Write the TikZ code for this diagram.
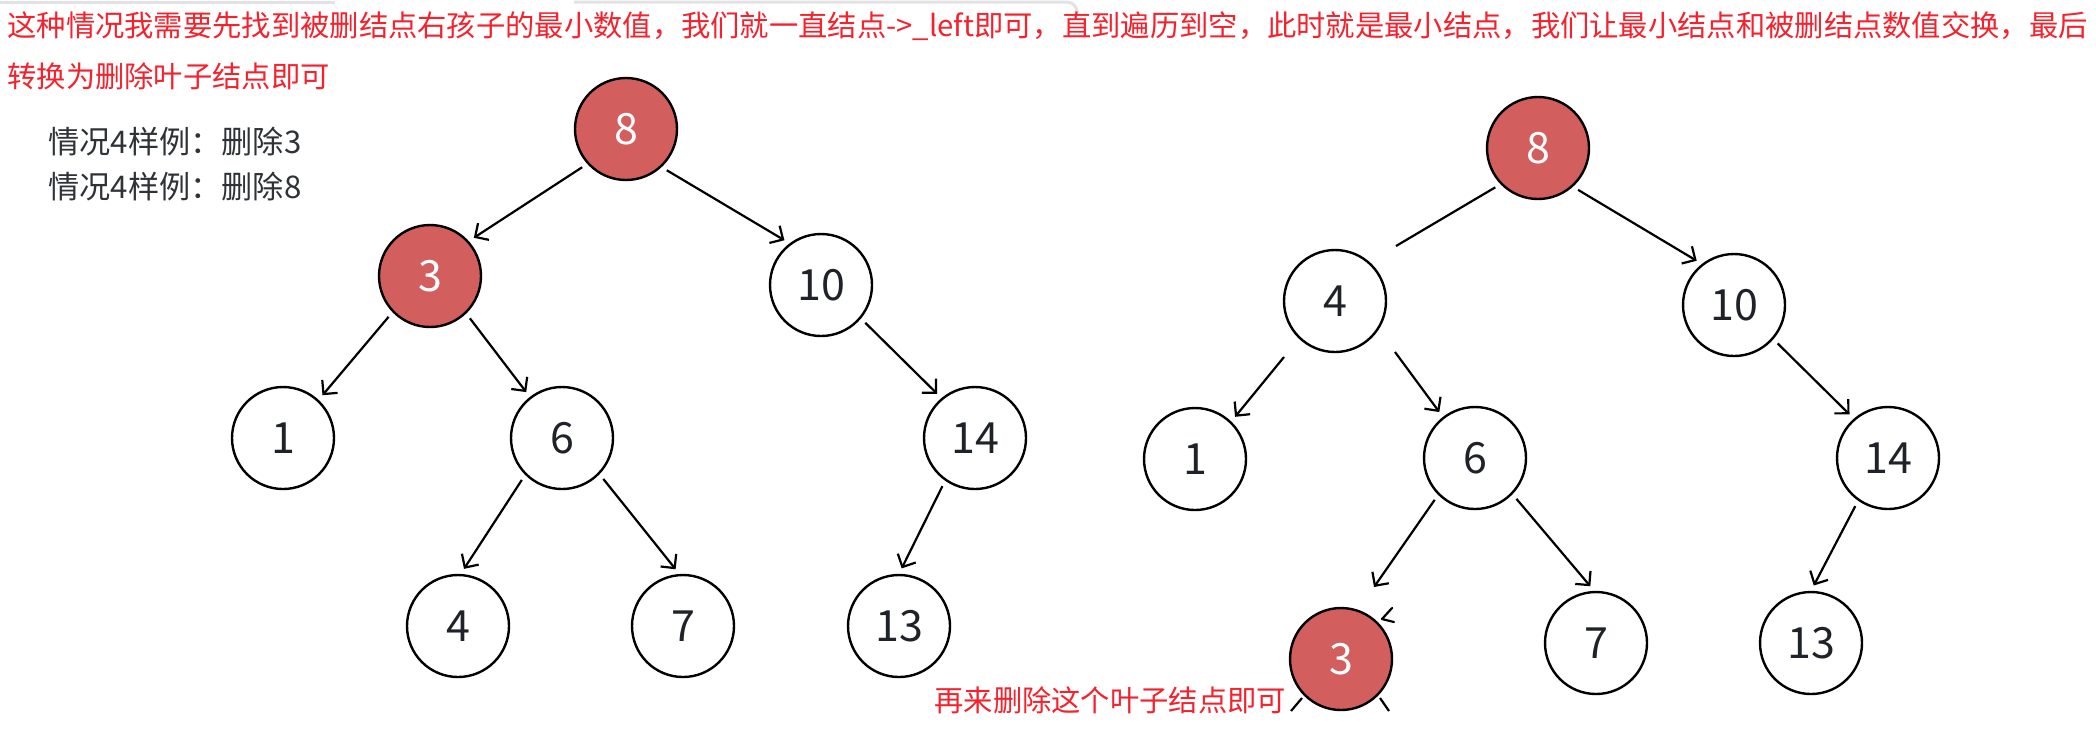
\documentclass[tikz,border=0pt]{standalone}
\usepackage{fontspec}
\newfontfamily\cjk{Noto Sans CJK SC}
\usetikzlibrary{arrows.meta}
\definecolor{nodered}{RGB}{211,94,94}
\definecolor{txtred}{RGB}{245,34,45}
\definecolor{txtgray}{RGB}{47,50,55}
\definecolor{digit}{RGB}{31,35,41}
\definecolor{barg}{RGB}{226,226,228}
\begin{document}
\begin{tikzpicture}[x=0.5pt,y=-0.5pt,
  tnode/.style={circle, draw=black, line width=1.2pt, minimum size=51pt, inner sep=0pt, fill=white,
    font=\cjk\fontsize{21.5}{21.5}\selectfont, text=digit},
  hot/.style={tnode, fill=nodered, text=white},
  link/.style={line width=1.1pt, -{Straight Barb[length=5pt,width=10pt,line width=1.1pt]}, shorten >=3pt, shorten <=3pt},
  plainlink/.style={line width=1.1pt},
  redtxt/.style={font=\cjk\fontsize{14.65}{14.65}\selectfont, text=txtred, anchor=west, inner sep=0pt},
  graytxt/.style={font=\cjk\fontsize{15.6}{15.6}\selectfont, text=txtgray, anchor=west, inner sep=0pt},
  topbar/.style={draw=barg, line width=1.5pt}
]
\useasboundingbox (0,0) rectangle (2096,741);
\fill[white] (0,0) rectangle (2096,741);

% faint UI bar at the top
\draw[topbar] (0,2) -- (335,2);
\draw[topbar, rounded corners=5pt] (574,2) -- (1077,2) -- (1077,10);

% top explanation
\node[redtxt] (t1) at (7,26) {这种情况我需要先找到被删结点右孩子的最小数值，我们就一直结点->\_left即可，直到遍历到空，此时就是最小结点，我们让最小结点和被删结点数值交换，最后};
\node[redtxt] (t2) at (7,76) {转换为删除叶子结点即可};

\node[graytxt] (g1) at (48,142) {情况4样例：删除3};
\node[graytxt] (g2) at (48,187) {情况4样例：删除8};

% left tree
\node[hot]   (L8)  at (626,129) {8};
\node[hot]   (L3)  at (430,276) {3};
\node[tnode] (L10) at (821,285) {10};
\node[tnode] (L1)  at (283,438) {1};
\node[tnode] (L6)  at (562,438) {6};
\node[tnode] (L14) at (975,438) {14};
\node[tnode] (L4)  at (458,626) {4};
\node[tnode] (L7)  at (683,626) {7};
\node[tnode] (L13) at (899,626) {13};

\draw[link] (L8.222) -- (L3.42);
\draw[link] (L8.313) -- (L10.127);
\draw[link] (L3.224) -- (L1.47);
\draw[link] (L3.314) -- (L6.128);
\draw[link] (L10.320) -- (L14.130);
\draw[link] (L6.225) -- (L4.87);
\draw[link] (L6.316) -- (L7.94);
\draw[link] (L14.235) -- (L13.90);

% right tree
\node[hot]   (R8)  at (1538,148) {8};
\node[tnode] (R4)  at (1335,301) {4};
\node[tnode] (R10) at (1734,305) {10};
\node[tnode] (R1)  at (1195,459) {1};
\node[tnode] (R6)  at (1475,458) {6};
\node[tnode] (R14) at (1888,458) {14};
\node[hot]   (R3)  at (1341,659) {3};
\node[tnode] (R7)  at (1596,643) {7};
\node[tnode] (R13) at (1811,643) {13};

\coordinate (c84)  at (1396,246);
\coordinate (c41)  at (1284,357);
\coordinate (c46)  at (1395,352);
\coordinate (c63)  at (1374,587);
\coordinate (oldA) at (1392,608);
\coordinate (oldT) at (1382,619);
\coordinate (oldB) at (1394,622);
\coordinate (fl1)  at (1302,698);
\coordinate (fl2)  at (1291,711);
\coordinate (fr1)  at (1380,698);
\coordinate (fr2)  at (1389,711);

\draw[plainlink, shorten <=3pt] (R8.224) -- (c84);
\draw[link, shorten <=0pt] (c41) -- (R1.46);
\draw[link, shorten <=0pt] (c46) -- (R6.128);
\draw[link] (R8.312) -- (R10.128);
\draw[link] (R10.319) -- (R14.131);
\draw[link, shorten >=0pt] (R6.225) -- (c63);
\draw[plainlink, line cap=round, line join=round] (oldA) -- (oldT) -- (oldB);
\draw[plainlink] (fl1) -- (fl2);
\draw[plainlink] (fr1) -- (fr2);
\draw[link] (R6.316) -- (R7.92);
\draw[link] (R14.235) -- (R13.90);

\node[redtxt] (t3) at (934,700) {再来删除这个叶子结点即可};
\end{tikzpicture}
\end{document}
